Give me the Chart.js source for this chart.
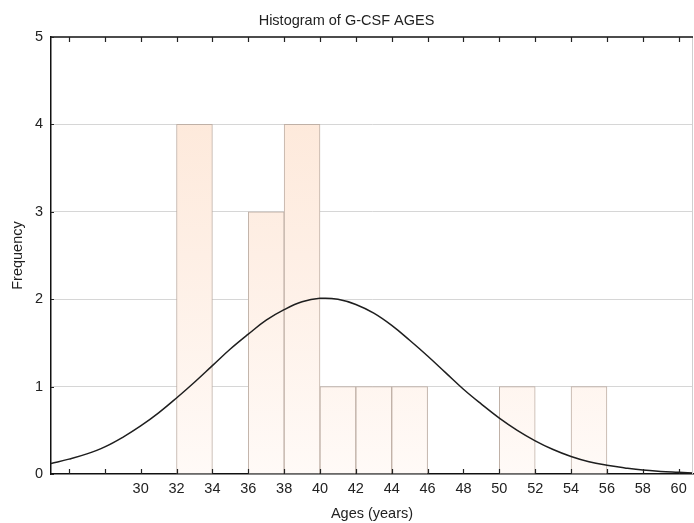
<!DOCTYPE html>
<html>
<head>
<meta charset="utf-8">
<script src="https://cdn.jsdelivr.net/npm/chart.js@4/dist/chart.umd.min.js"></script>
<style>
  body { margin: 0; background: #fff; }
  #hist-chart { display: block; }
</style>
</head>
<body>
<canvas id="hist-chart" width="694" height="523"></canvas>
<script>
// histogram bins (start of each 2-year bin) and counts
const binStarts = [32, 34, 36, 38, 40, 42, 44, 46, 48, 50, 52, 54]
const binCounts = [4, 0, 3, 4, 1, 1, 1, 0, 0, 1, 0, 1]
const binWidth = 2

// fitted normal curve, read at each year
const curveAges = [25, 26, 27, 28, 29, 30, 31, 32, 33, 34, 35, 36, 37, 38, 39, 40, 41, 42, 43,
  44, 45, 46, 47, 48, 49, 50, 51, 52, 53, 54, 55, 56, 57, 58, 59, 60, 61]
const curveFreq = [0.12, 0.17, 0.23, 0.31, 0.42, 0.55, 0.70, 0.87, 1.05, 1.24, 1.43, 1.60, 1.76,
  1.88, 1.97, 2.01, 2.0, 1.94, 1.84, 1.70, 1.53, 1.35, 1.16, 0.97, 0.80, 0.64, 0.50, 0.38, 0.28,
  0.20, 0.14, 0.10, 0.07, 0.045, 0.03, 0.02, 0.01]

// x axis tick positions and labels
const xTicks = [26, 28, 30, 32, 34, 36, 38, 40, 42, 44, 46, 48, 50, 52, 54, 56, 58, 60]
const xTickLabels = ['', '', '30', '32', '34', '36', '38', '40', '42', '44', '46', '48', '50',
  '52', '54', '56', '58', '60']

const FONT = '"Liberation Sans", Arial, sans-serif'
const FONT_SIZE = 14.5

// top border, faint right border and inward tick marks
const frameTicks = {
  id: 'frameTicks',
  afterDraw(chart) {
    const { ctx, chartArea: a, scales } = chart
    const x = scales.x
    const y = scales.y
    ctx.save()

    ctx.strokeStyle = '#cfcfcf'
    ctx.lineWidth = 1
    ctx.beginPath()
    ctx.moveTo(a.right - 0.5, a.top)
    ctx.lineTo(a.right - 0.5, a.bottom)
    ctx.stroke()

    ctx.strokeStyle = '#111'
    ctx.lineWidth = 1.5
    ctx.beginPath()
    ctx.moveTo(a.left, a.top)
    ctx.lineTo(a.right, a.top)
    ctx.stroke()

    ctx.lineWidth = 1.2
    ctx.strokeStyle = '#222'
    ctx.beginPath()
    xTicks.forEach(v => {
      const px = Math.round(x.getPixelForValue(v)) + 0.5
      ctx.moveTo(px, a.bottom)
      ctx.lineTo(px, a.bottom - 5)
      ctx.moveTo(px, a.top)
      ctx.lineTo(px, a.top + 5)
    })
    y.ticks.forEach(t => {
      const py = Math.round(y.getPixelForValue(t.value)) + 0.5
      ctx.moveTo(a.left, py)
      ctx.lineTo(a.left + 3, py)
    })
    ctx.stroke()
    ctx.restore()
  },
}

initChart()

function initChart() {
  const ctx = document.getElementById('hist-chart')

  const bars = binStarts
    .map((start, i) => ({ x: start + binWidth / 2, y: binCounts[i] }))
    .filter(p => p.y > 0)
  const curve = curveAges.map((age, i) => ({ x: age, y: curveFreq[i] }))

  new Chart(ctx, {
    type: 'bar',
    data: {
      datasets: [
        {
          type: 'line',
          label: 'Normal fit',
          data: curve,
          borderColor: '#1e1e1e',
          borderWidth: 1.5,
          pointRadius: 0,
          tension: 0.4,
          order: 0,
        },
        {
          label: 'Frequency',
          data: bars,
          backgroundColor: barFill,
          borderColor: '#bfb0a6',
          borderWidth: 1,
          barPercentage: 1,
          categoryPercentage: 1,
          order: 1,
        },
      ],
    },
    options: {
      responsive: false,
      animation: false,
      layout: { padding: { left: 0, right: 1, top: 0, bottom: 0 } },
      plugins: {
        legend: { display: false },
        tooltip: { enabled: false },
        title: {
          display: true,
          text: 'Histogram of G-CSF AGES',
          color: '#222',
          font: { family: FONT, size: FONT_SIZE, weight: 'normal' },
          padding: { top: 12, bottom: 7.6 },
        },
      },
      scales: {
        x: {
          type: 'linear',
          min: 25,
          max: 60.8,
          offset: false,
          afterBuildTicks: scale => {
            scale.ticks = xTicks.map(value => ({ value }))
          },
          afterFit: scale => {
            scale.height = 49
          },
          ticks: {
            autoSkip: false,
            maxRotation: 0,
            padding: 6,
            color: '#222',
            font: { family: FONT, size: FONT_SIZE },
            callback: value => xTickLabels[xTicks.indexOf(value)] ?? '',
          },
          grid: { display: false, drawTicks: false, offset: false },
          border: { display: true, color: '#111', width: 1.5 },
          title: {
            display: true,
            text: 'Ages (years)',
            color: '#222',
            font: { family: FONT, size: FONT_SIZE },
            padding: { top: 0, bottom: 0 },
          },
        },
        y: {
          min: 0,
          max: 5,
          afterFit: scale => {
            scale.width = 51
          },
          ticks: {
            stepSize: 1,
            padding: 8,
            color: '#222',
            font: { family: FONT, size: FONT_SIZE },
          },
          grid: {
            drawTicks: false,
            color: c => (c.tick && c.tick.value > 0 && c.tick.value < 5 ? '#d6d6d6' : 'rgba(0,0,0,0)'),
            lineWidth: 1,
          },
          border: { display: true, color: '#111', width: 1.5 },
          title: {
            display: true,
            text: 'Frequency',
            color: '#222',
            font: { family: FONT, size: FONT_SIZE },
            padding: { top: 9, bottom: 0 },
          },
        },
      },
    },
    plugins: [frameTicks],
  })
}

/**
 * Peach fill that fades toward the x axis
 * @param {object} c Scriptable context
 */
function barFill(c) {
  const area = c.chart.chartArea
  if (!area) return '#fdebdd'
  const g = c.chart.ctx.createLinearGradient(0, area.top, 0, area.bottom)
  g.addColorStop(0, '#fde6d5')
  g.addColorStop(0.5, '#feefe5')
  g.addColorStop(1, '#fffaf7')
  return g
}
</script>
</body>
</html>
